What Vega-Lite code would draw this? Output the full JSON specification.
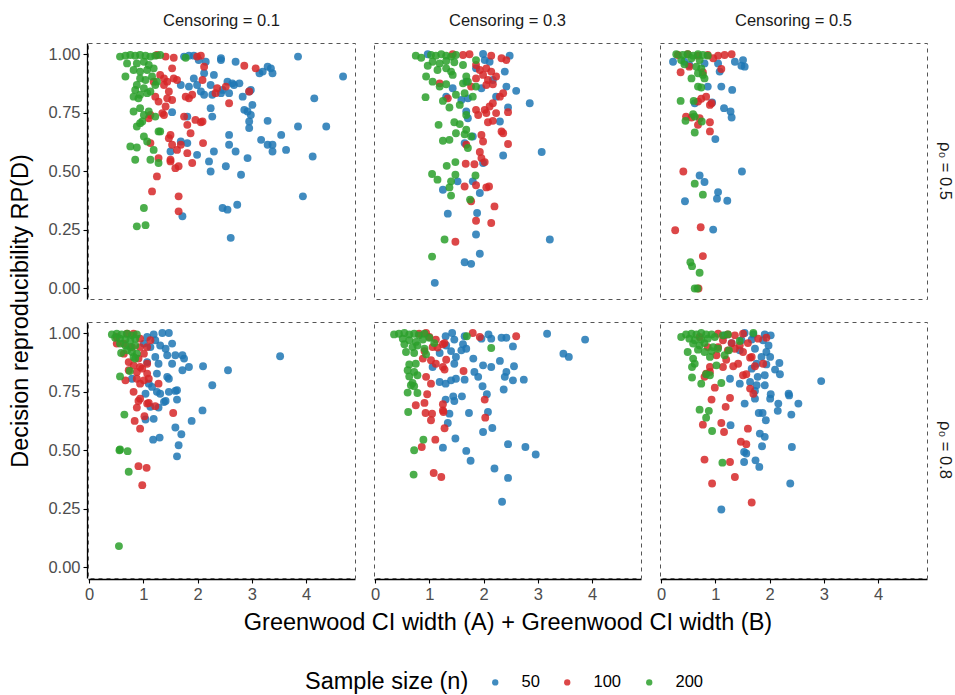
{
  "$schema": "https://vega.github.io/schema/vega-lite/v6.json",
  "background": "white",
  "padding": {"left": 8, "top": 12, "right": 4, "bottom": 4},
  "data": {
    "values": [
      {"cens":0.1,"p0":0.5,"n":50,"width":1.75,"rp":0.989},{"cens":0.1,"p0":0.5,"n":50,"width":1.84,"rp":0.993},{"cens":0.1,"p0":0.5,"n":50,"width":1.93,"rp":0.993},{"cens":0.1,"p0":0.5,"n":50,"width":2.02,"rp":0.974},{"cens":0.1,"p0":0.5,"n":50,"width":2.15,"rp":0.967},{"cens":0.1,"p0":0.5,"n":50,"width":2.43,"rp":0.982},{"cens":0.1,"p0":0.5,"n":50,"width":2.43,"rp":0.974},{"cens":0.1,"p0":0.5,"n":50,"width":2.70,"rp":0.967},{"cens":0.1,"p0":0.5,"n":50,"width":3.85,"rp":0.989},{"cens":0.1,"p0":0.5,"n":50,"width":4.68,"rp":0.904},
      {"cens":0.1,"p0":0.5,"n":50,"width":3.29,"rp":0.946},{"cens":0.1,"p0":0.5,"n":50,"width":3.35,"rp":0.939},{"cens":0.1,"p0":0.5,"n":50,"width":3.14,"rp":0.918},{"cens":0.1,"p0":0.5,"n":50,"width":3.20,"rp":0.925},{"cens":0.1,"p0":0.5,"n":50,"width":3.38,"rp":0.918},{"cens":0.1,"p0":0.5,"n":50,"width":1.69,"rp":0.868},{"cens":0.1,"p0":0.5,"n":50,"width":1.84,"rp":0.861},{"cens":0.1,"p0":0.5,"n":50,"width":1.99,"rp":0.868},{"cens":0.1,"p0":0.5,"n":50,"width":2.12,"rp":0.826},{"cens":0.1,"p0":0.5,"n":50,"width":2.30,"rp":0.911},
      {"cens":0.1,"p0":0.5,"n":50,"width":2.24,"rp":0.868},{"cens":0.1,"p0":0.5,"n":50,"width":2.27,"rp":0.826},{"cens":0.1,"p0":0.5,"n":50,"width":2.43,"rp":0.833},{"cens":0.1,"p0":0.5,"n":50,"width":2.46,"rp":0.847},{"cens":0.1,"p0":0.5,"n":50,"width":2.55,"rp":0.882},{"cens":0.1,"p0":0.5,"n":50,"width":2.58,"rp":0.833},{"cens":0.1,"p0":0.5,"n":50,"width":2.64,"rp":0.875},{"cens":0.1,"p0":0.5,"n":50,"width":2.67,"rp":0.868},{"cens":0.1,"p0":0.5,"n":50,"width":2.77,"rp":0.875},{"cens":0.1,"p0":0.5,"n":50,"width":2.83,"rp":0.818},
      {"cens":0.1,"p0":0.5,"n":50,"width":2.98,"rp":0.847},{"cens":0.1,"p0":0.5,"n":50,"width":2.95,"rp":0.840},{"cens":0.1,"p0":0.5,"n":50,"width":3.01,"rp":0.783},{"cens":0.1,"p0":0.5,"n":50,"width":2.86,"rp":0.762},{"cens":0.1,"p0":0.5,"n":50,"width":2.92,"rp":0.755},{"cens":0.1,"p0":0.5,"n":50,"width":2.98,"rp":0.740},{"cens":0.1,"p0":0.5,"n":50,"width":2.95,"rp":0.712},{"cens":0.1,"p0":0.5,"n":50,"width":2.95,"rp":0.684},{"cens":0.1,"p0":0.5,"n":50,"width":3.29,"rp":0.715},{"cens":0.1,"p0":0.5,"n":50,"width":3.54,"rp":0.655},
      {"cens":0.1,"p0":0.5,"n":50,"width":3.85,"rp":0.691},{"cens":0.1,"p0":0.5,"n":50,"width":4.15,"rp":0.811},{"cens":0.1,"p0":0.5,"n":50,"width":4.37,"rp":0.691},{"cens":0.1,"p0":0.5,"n":50,"width":3.17,"rp":0.634},{"cens":0.1,"p0":0.5,"n":50,"width":3.29,"rp":0.613},{"cens":0.1,"p0":0.5,"n":50,"width":3.38,"rp":0.613},{"cens":0.1,"p0":0.5,"n":50,"width":3.38,"rp":0.584},{"cens":0.1,"p0":0.5,"n":50,"width":3.63,"rp":0.591},{"cens":0.1,"p0":0.5,"n":50,"width":4.12,"rp":0.563},{"cens":0.1,"p0":0.5,"n":50,"width":3.94,"rp":0.393},
      {"cens":0.1,"p0":0.5,"n":50,"width":2.24,"rp":0.769},{"cens":0.1,"p0":0.5,"n":50,"width":2.27,"rp":0.733},{"cens":0.1,"p0":0.5,"n":50,"width":1.81,"rp":0.733},{"cens":0.1,"p0":0.5,"n":50,"width":1.53,"rp":0.752},{"cens":0.1,"p0":0.5,"n":50,"width":2.58,"rp":0.655},{"cens":0.1,"p0":0.5,"n":50,"width":2.58,"rp":0.613},{"cens":0.1,"p0":0.5,"n":50,"width":2.70,"rp":0.584},{"cens":0.1,"p0":0.5,"n":50,"width":2.92,"rp":0.556},{"cens":0.1,"p0":0.5,"n":50,"width":2.30,"rp":0.584},{"cens":0.1,"p0":0.5,"n":50,"width":1.99,"rp":0.570},
      {"cens":0.1,"p0":0.5,"n":50,"width":2.21,"rp":0.542},{"cens":0.1,"p0":0.5,"n":50,"width":2.24,"rp":0.499},{"cens":0.1,"p0":0.5,"n":50,"width":2.52,"rp":0.521},{"cens":0.1,"p0":0.5,"n":50,"width":2.80,"rp":0.485},{"cens":0.1,"p0":0.5,"n":50,"width":1.69,"rp":0.627},{"cens":0.1,"p0":0.5,"n":50,"width":1.81,"rp":0.620},{"cens":0.1,"p0":0.5,"n":50,"width":1.50,"rp":0.584},{"cens":0.1,"p0":0.5,"n":50,"width":1.72,"rp":0.308},{"cens":0.1,"p0":0.5,"n":50,"width":2.46,"rp":0.343},{"cens":0.1,"p0":0.5,"n":50,"width":2.55,"rp":0.336},
      {"cens":0.1,"p0":0.5,"n":50,"width":2.73,"rp":0.357},{"cens":0.1,"p0":0.5,"n":50,"width":2.61,"rp":0.216},{"cens":0.1,"p0":0.5,"n":50,"width":2.06,"rp":0.840},{"cens":0.1,"p0":0.5,"n":50,"width":2.12,"rp":0.918},{"cens":0.1,"p0":0.5,"n":50,"width":1.93,"rp":0.896},

      {"cens":0.3,"p0":0.5,"n":50,"width":0.97,"rp":0.999},{"cens":0.3,"p0":0.5,"n":50,"width":1.99,"rp":1.0},{"cens":0.3,"p0":0.5,"n":50,"width":2.02,"rp":0.974},{"cens":0.3,"p0":0.5,"n":50,"width":2.48,"rp":0.993},{"cens":0.3,"p0":0.5,"n":50,"width":2.39,"rp":0.925},{"cens":0.3,"p0":0.5,"n":50,"width":2.60,"rp":0.843},{"cens":0.3,"p0":0.5,"n":50,"width":2.85,"rp":0.790},{"cens":0.3,"p0":0.5,"n":50,"width":2.42,"rp":0.861},{"cens":0.3,"p0":0.5,"n":50,"width":2.45,"rp":0.772},{"cens":0.3,"p0":0.5,"n":50,"width":2.17,"rp":0.889},
      {"cens":0.3,"p0":0.5,"n":50,"width":1.96,"rp":0.854},{"cens":0.3,"p0":0.5,"n":50,"width":2.23,"rp":0.818},{"cens":0.3,"p0":0.5,"n":50,"width":2.30,"rp":0.712},{"cens":0.3,"p0":0.5,"n":50,"width":3.07,"rp":0.582},{"cens":0.3,"p0":0.5,"n":50,"width":2.36,"rp":0.567},{"cens":0.3,"p0":0.5,"n":50,"width":3.22,"rp":0.209},{"cens":0.3,"p0":0.5,"n":50,"width":1.31,"rp":0.818},{"cens":0.3,"p0":0.5,"n":50,"width":1.43,"rp":0.854},{"cens":0.3,"p0":0.5,"n":50,"width":1.68,"rp":0.755},{"cens":0.3,"p0":0.5,"n":50,"width":1.71,"rp":0.726},
      {"cens":0.3,"p0":0.5,"n":50,"width":1.80,"rp":0.648},{"cens":0.3,"p0":0.5,"n":50,"width":1.65,"rp":0.620},{"cens":0.3,"p0":0.5,"n":50,"width":1.99,"rp":0.535},{"cens":0.3,"p0":0.5,"n":50,"width":1.52,"rp":0.457},{"cens":0.3,"p0":0.5,"n":50,"width":1.80,"rp":0.457},{"cens":0.3,"p0":0.5,"n":50,"width":1.93,"rp":0.407},{"cens":0.3,"p0":0.5,"n":50,"width":1.25,"rp":0.421},{"cens":0.3,"p0":0.5,"n":50,"width":1.34,"rp":0.319},{"cens":0.3,"p0":0.5,"n":50,"width":1.88,"rp":0.322},{"cens":0.3,"p0":0.5,"n":50,"width":1.86,"rp":0.230},
      {"cens":0.3,"p0":0.5,"n":50,"width":1.93,"rp":0.148},{"cens":0.3,"p0":0.5,"n":50,"width":1.65,"rp":0.112},{"cens":0.3,"p0":0.5,"n":50,"width":1.77,"rp":0.105},{"cens":0.3,"p0":0.5,"n":50,"width":1.10,"rp":0.024},{"cens":0.3,"p0":0.5,"n":50,"width":2.11,"rp":0.967},{"cens":0.3,"p0":0.5,"n":50,"width":1.86,"rp":0.939},{"cens":0.3,"p0":0.5,"n":50,"width":1.68,"rp":0.882},{"cens":0.3,"p0":0.5,"n":50,"width":1.59,"rp":0.804},{"cens":0.3,"p0":0.5,"n":50,"width":1.71,"rp":0.811},

      {"cens":0.5,"p0":0.5,"n":50,"width":0.22,"rp":0.967},{"cens":0.5,"p0":0.5,"n":50,"width":0.43,"rp":0.967},{"cens":0.5,"p0":0.5,"n":50,"width":0.80,"rp":0.960},{"cens":0.5,"p0":0.5,"n":50,"width":1.05,"rp":0.960},{"cens":0.5,"p0":0.5,"n":50,"width":1.08,"rp":0.925},{"cens":0.5,"p0":0.5,"n":50,"width":1.36,"rp":0.967},{"cens":0.5,"p0":0.5,"n":50,"width":1.51,"rp":0.974},{"cens":0.5,"p0":0.5,"n":50,"width":1.54,"rp":0.946},{"cens":0.5,"p0":0.5,"n":50,"width":1.48,"rp":0.950},{"cens":0.5,"p0":0.5,"n":50,"width":0.86,"rp":0.861},
      {"cens":0.5,"p0":0.5,"n":50,"width":1.11,"rp":0.861},{"cens":0.5,"p0":0.5,"n":50,"width":1.31,"rp":0.847},{"cens":0.5,"p0":0.5,"n":50,"width":0.62,"rp":0.790},{"cens":0.5,"p0":0.5,"n":50,"width":0.94,"rp":0.793},{"cens":0.5,"p0":0.5,"n":50,"width":1.16,"rp":0.769},{"cens":0.5,"p0":0.5,"n":50,"width":1.28,"rp":0.755},{"cens":0.5,"p0":0.5,"n":50,"width":1.30,"rp":0.729},{"cens":0.5,"p0":0.5,"n":50,"width":1.00,"rp":0.637},{"cens":0.5,"p0":0.5,"n":50,"width":1.49,"rp":0.499},{"cens":0.5,"p0":0.5,"n":50,"width":0.71,"rp":0.482},
      {"cens":0.5,"p0":0.5,"n":50,"width":0.80,"rp":0.454},{"cens":0.5,"p0":0.5,"n":50,"width":0.44,"rp":0.372},{"cens":0.5,"p0":0.5,"n":50,"width":1.03,"rp":0.383},{"cens":0.5,"p0":0.5,"n":50,"width":1.05,"rp":0.411},{"cens":0.5,"p0":0.5,"n":50,"width":1.22,"rp":0.374},{"cens":0.5,"p0":0.5,"n":50,"width":0.96,"rp":0.251},{"cens":0.5,"p0":0.5,"n":50,"width":0.52,"rp":0.953},

      {"cens":0.1,"p0":0.8,"n":50,"width":1.19,"rp":0.994},{"cens":0.1,"p0":0.8,"n":50,"width":1.35,"rp":1.0},{"cens":0.1,"p0":0.8,"n":50,"width":1.47,"rp":1.0},{"cens":0.1,"p0":0.8,"n":50,"width":1.07,"rp":0.983},{"cens":0.1,"p0":0.8,"n":50,"width":1.22,"rp":0.969},{"cens":0.1,"p0":0.8,"n":50,"width":1.01,"rp":0.955},{"cens":0.1,"p0":0.8,"n":50,"width":1.31,"rp":0.947},{"cens":0.1,"p0":0.8,"n":50,"width":1.53,"rp":0.955},{"cens":0.1,"p0":0.8,"n":50,"width":1.41,"rp":0.933},{"cens":0.1,"p0":0.8,"n":50,"width":1.13,"rp":0.940},
      {"cens":0.1,"p0":0.8,"n":50,"width":1.22,"rp":0.898},{"cens":0.1,"p0":0.8,"n":50,"width":1.44,"rp":0.905},{"cens":0.1,"p0":0.8,"n":50,"width":1.59,"rp":0.905},{"cens":0.1,"p0":0.8,"n":50,"width":1.53,"rp":0.869},{"cens":0.1,"p0":0.8,"n":50,"width":1.72,"rp":0.905},{"cens":0.1,"p0":0.8,"n":50,"width":1.75,"rp":0.891},{"cens":0.1,"p0":0.8,"n":50,"width":1.84,"rp":0.855},{"cens":0.1,"p0":0.8,"n":50,"width":1.72,"rp":0.841},{"cens":0.1,"p0":0.8,"n":50,"width":2.10,"rp":0.858},{"cens":0.1,"p0":0.8,"n":50,"width":2.56,"rp":0.841},
      {"cens":0.1,"p0":0.8,"n":50,"width":3.52,"rp":0.901},{"cens":0.1,"p0":0.8,"n":50,"width":1.28,"rp":0.869},{"cens":0.1,"p0":0.8,"n":50,"width":1.07,"rp":0.876},{"cens":0.1,"p0":0.8,"n":50,"width":1.25,"rp":0.827},{"cens":0.1,"p0":0.8,"n":50,"width":1.44,"rp":0.813},{"cens":0.1,"p0":0.8,"n":50,"width":1.47,"rp":0.805},{"cens":0.1,"p0":0.8,"n":50,"width":1.10,"rp":0.784},{"cens":0.1,"p0":0.8,"n":50,"width":1.16,"rp":0.770},{"cens":0.1,"p0":0.8,"n":50,"width":1.04,"rp":0.741},{"cens":0.1,"p0":0.8,"n":50,"width":1.25,"rp":0.749},
      {"cens":0.1,"p0":0.8,"n":50,"width":1.31,"rp":0.741},{"cens":0.1,"p0":0.8,"n":50,"width":1.47,"rp":0.749},{"cens":0.1,"p0":0.8,"n":50,"width":1.38,"rp":0.706},{"cens":0.1,"p0":0.8,"n":50,"width":1.62,"rp":0.756},{"cens":0.1,"p0":0.8,"n":50,"width":1.59,"rp":0.753},{"cens":0.1,"p0":0.8,"n":50,"width":1.41,"rp":0.710},{"cens":0.1,"p0":0.8,"n":50,"width":1.28,"rp":0.682},{"cens":0.1,"p0":0.8,"n":50,"width":1.13,"rp":0.685},{"cens":0.1,"p0":0.8,"n":50,"width":1.04,"rp":0.631},{"cens":0.1,"p0":0.8,"n":50,"width":1.19,"rp":0.634},
      {"cens":0.1,"p0":0.8,"n":50,"width":2.27,"rp":0.777},{"cens":0.1,"p0":0.8,"n":50,"width":2.09,"rp":0.670},{"cens":0.1,"p0":0.8,"n":50,"width":1.89,"rp":0.625},{"cens":0.1,"p0":0.8,"n":50,"width":1.62,"rp":0.716},{"cens":0.1,"p0":0.8,"n":50,"width":1.18,"rp":0.545},{"cens":0.1,"p0":0.8,"n":50,"width":1.30,"rp":0.554},{"cens":0.1,"p0":0.8,"n":50,"width":1.59,"rp":0.597},{"cens":0.1,"p0":0.8,"n":50,"width":1.70,"rp":0.568},{"cens":0.1,"p0":0.8,"n":50,"width":1.65,"rp":0.521},{"cens":0.1,"p0":0.8,"n":50,"width":1.62,"rp":0.474},
      {"cens":0.1,"p0":0.8,"n":50,"width":0.79,"rp":0.805},

      {"cens":0.3,"p0":0.8,"n":50,"width":1.30,"rp":0.986},{"cens":0.3,"p0":0.8,"n":50,"width":1.42,"rp":1.0},{"cens":0.3,"p0":0.8,"n":50,"width":1.65,"rp":0.986},{"cens":0.3,"p0":0.8,"n":50,"width":1.46,"rp":0.972},{"cens":0.3,"p0":0.8,"n":50,"width":1.62,"rp":0.952},{"cens":0.3,"p0":0.8,"n":50,"width":1.31,"rp":0.947},{"cens":0.3,"p0":0.8,"n":50,"width":1.40,"rp":0.923},{"cens":0.3,"p0":0.8,"n":50,"width":1.49,"rp":0.898},{"cens":0.3,"p0":0.8,"n":50,"width":1.68,"rp":0.933},{"cens":0.3,"p0":0.8,"n":50,"width":1.59,"rp":0.926},
      {"cens":0.3,"p0":0.8,"n":50,"width":1.19,"rp":0.915},{"cens":0.3,"p0":0.8,"n":50,"width":1.46,"rp":0.869},{"cens":0.3,"p0":0.8,"n":50,"width":1.06,"rp":0.855},{"cens":0.3,"p0":0.8,"n":50,"width":1.81,"rp":0.891},{"cens":0.3,"p0":0.8,"n":50,"width":1.99,"rp":0.862},{"cens":0.3,"p0":0.8,"n":50,"width":2.14,"rp":0.855},{"cens":0.3,"p0":0.8,"n":50,"width":1.83,"rp":0.834},{"cens":0.3,"p0":0.8,"n":50,"width":1.90,"rp":0.813},{"cens":0.3,"p0":0.8,"n":50,"width":1.65,"rp":0.801},{"cens":0.3,"p0":0.8,"n":50,"width":1.49,"rp":0.805},
      {"cens":0.3,"p0":0.8,"n":50,"width":1.40,"rp":0.798},{"cens":0.3,"p0":0.8,"n":50,"width":1.19,"rp":0.791},{"cens":0.3,"p0":0.8,"n":50,"width":1.30,"rp":0.784},{"cens":0.3,"p0":0.8,"n":50,"width":2.14,"rp":0.976},{"cens":0.3,"p0":0.8,"n":50,"width":1.96,"rp":0.976},{"cens":0.3,"p0":0.8,"n":50,"width":2.33,"rp":0.980},{"cens":0.3,"p0":0.8,"n":50,"width":2.42,"rp":0.980},{"cens":0.3,"p0":0.8,"n":50,"width":2.54,"rp":0.943},{"cens":0.3,"p0":0.8,"n":50,"width":2.09,"rp":0.994},{"cens":0.3,"p0":0.8,"n":50,"width":3.17,"rp":0.997},
      {"cens":0.3,"p0":0.8,"n":50,"width":3.87,"rp":0.972},{"cens":0.3,"p0":0.8,"n":50,"width":3.47,"rp":0.912},{"cens":0.3,"p0":0.8,"n":50,"width":3.57,"rp":0.898},{"cens":0.3,"p0":0.8,"n":50,"width":2.30,"rp":0.881},{"cens":0.3,"p0":0.8,"n":50,"width":2.56,"rp":0.858},{"cens":0.3,"p0":0.8,"n":50,"width":2.42,"rp":0.834},{"cens":0.3,"p0":0.8,"n":50,"width":2.39,"rp":0.813},{"cens":0.3,"p0":0.8,"n":50,"width":2.54,"rp":0.798},{"cens":0.3,"p0":0.8,"n":50,"width":2.74,"rp":0.801},{"cens":0.3,"p0":0.8,"n":50,"width":2.37,"rp":0.759},
      {"cens":0.3,"p0":0.8,"n":50,"width":1.98,"rp":0.773},{"cens":0.3,"p0":0.8,"n":50,"width":2.06,"rp":0.739},{"cens":0.3,"p0":0.8,"n":50,"width":1.73,"rp":0.659},{"cens":0.3,"p0":0.8,"n":50,"width":1.46,"rp":0.710},{"cens":0.3,"p0":0.8,"n":50,"width":1.44,"rp":0.730},{"cens":0.3,"p0":0.8,"n":50,"width":1.60,"rp":0.730},{"cens":0.3,"p0":0.8,"n":50,"width":1.30,"rp":0.716},{"cens":0.3,"p0":0.8,"n":50,"width":1.37,"rp":0.656},{"cens":0.3,"p0":0.8,"n":50,"width":1.34,"rp":0.616},{"cens":0.3,"p0":0.8,"n":50,"width":2.08,"rp":0.663},
      {"cens":0.3,"p0":0.8,"n":50,"width":2.16,"rp":0.595},{"cens":0.3,"p0":0.8,"n":50,"width":1.99,"rp":0.578},{"cens":0.3,"p0":0.8,"n":50,"width":1.48,"rp":0.550},{"cens":0.3,"p0":0.8,"n":50,"width":1.25,"rp":0.511},{"cens":0.3,"p0":0.8,"n":50,"width":1.68,"rp":0.497},{"cens":0.3,"p0":0.8,"n":50,"width":1.76,"rp":0.455},{"cens":0.3,"p0":0.8,"n":50,"width":2.45,"rp":0.526},{"cens":0.3,"p0":0.8,"n":50,"width":2.77,"rp":0.514},{"cens":0.3,"p0":0.8,"n":50,"width":2.96,"rp":0.482},{"cens":0.3,"p0":0.8,"n":50,"width":2.20,"rp":0.422},
      {"cens":0.3,"p0":0.8,"n":50,"width":2.45,"rp":0.382},{"cens":0.3,"p0":0.8,"n":50,"width":2.34,"rp":0.280},

      {"cens":0.5,"p0":0.8,"n":50,"width":1.17,"rp":0.990},{"cens":0.5,"p0":0.8,"n":50,"width":1.54,"rp":1.0},{"cens":0.5,"p0":0.8,"n":50,"width":1.70,"rp":0.994},{"cens":0.5,"p0":0.8,"n":50,"width":1.91,"rp":0.994},{"cens":0.5,"p0":0.8,"n":50,"width":2.02,"rp":0.990},{"cens":0.5,"p0":0.8,"n":50,"width":1.48,"rp":0.969},{"cens":0.5,"p0":0.8,"n":50,"width":1.67,"rp":0.972},{"cens":0.5,"p0":0.8,"n":50,"width":1.88,"rp":0.969},{"cens":0.5,"p0":0.8,"n":50,"width":1.98,"rp":0.947},{"cens":0.5,"p0":0.8,"n":50,"width":1.73,"rp":0.933},
      {"cens":0.5,"p0":0.8,"n":50,"width":1.94,"rp":0.919},{"cens":0.5,"p0":0.8,"n":50,"width":2.01,"rp":0.898},{"cens":0.5,"p0":0.8,"n":50,"width":1.85,"rp":0.898},{"cens":0.5,"p0":0.8,"n":50,"width":1.76,"rp":0.869},{"cens":0.5,"p0":0.8,"n":50,"width":1.67,"rp":0.848},{"cens":0.5,"p0":0.8,"n":50,"width":1.94,"rp":0.866},{"cens":0.5,"p0":0.8,"n":50,"width":2.10,"rp":0.844},{"cens":0.5,"p0":0.8,"n":50,"width":2.19,"rp":0.824},{"cens":0.5,"p0":0.8,"n":50,"width":2.18,"rp":0.872},{"cens":0.5,"p0":0.8,"n":50,"width":1.91,"rp":0.820},
      {"cens":0.5,"p0":0.8,"n":50,"width":1.78,"rp":0.813},{"cens":0.5,"p0":0.8,"n":50,"width":1.91,"rp":0.777},{"cens":0.5,"p0":0.8,"n":50,"width":1.76,"rp":0.777},{"cens":0.5,"p0":0.8,"n":50,"width":1.64,"rp":0.791},{"cens":0.5,"p0":0.8,"n":50,"width":1.45,"rp":0.784},{"cens":0.5,"p0":0.8,"n":50,"width":1.27,"rp":0.805},{"cens":0.5,"p0":0.8,"n":50,"width":1.73,"rp":0.753},{"cens":0.5,"p0":0.8,"n":50,"width":1.73,"rp":0.720},{"cens":0.5,"p0":0.8,"n":50,"width":1.54,"rp":0.699},{"cens":0.5,"p0":0.8,"n":50,"width":2.02,"rp":0.739},
      {"cens":0.5,"p0":0.8,"n":50,"width":2.01,"rp":0.720},{"cens":0.5,"p0":0.8,"n":50,"width":2.16,"rp":0.699},{"cens":0.5,"p0":0.8,"n":50,"width":2.15,"rp":0.668},{"cens":0.5,"p0":0.8,"n":50,"width":2.35,"rp":0.741},{"cens":0.5,"p0":0.8,"n":50,"width":2.36,"rp":0.734},{"cens":0.5,"p0":0.8,"n":50,"width":2.53,"rp":0.699},{"cens":0.5,"p0":0.8,"n":50,"width":2.40,"rp":0.652},{"cens":0.5,"p0":0.8,"n":50,"width":1.80,"rp":0.659},{"cens":0.5,"p0":0.8,"n":50,"width":1.87,"rp":0.659},{"cens":0.5,"p0":0.8,"n":50,"width":1.93,"rp":0.628},
      {"cens":0.5,"p0":0.8,"n":50,"width":2.95,"rp":0.795},{"cens":0.5,"p0":0.8,"n":50,"width":1.82,"rp":0.571},{"cens":0.5,"p0":0.8,"n":50,"width":1.91,"rp":0.557},{"cens":0.5,"p0":0.8,"n":50,"width":1.86,"rp":0.517},{"cens":0.5,"p0":0.8,"n":50,"width":2.41,"rp":0.514},{"cens":0.5,"p0":0.8,"n":50,"width":1.53,"rp":0.493},{"cens":0.5,"p0":0.8,"n":50,"width":1.57,"rp":0.486},{"cens":0.5,"p0":0.8,"n":50,"width":1.53,"rp":0.450},{"cens":0.5,"p0":0.8,"n":50,"width":1.74,"rp":0.457},{"cens":0.5,"p0":0.8,"n":50,"width":1.81,"rp":0.429},
      {"cens":0.5,"p0":0.8,"n":50,"width":2.38,"rp":0.358},{"cens":0.5,"p0":0.8,"n":50,"width":1.28,"rp":0.607},{"cens":0.5,"p0":0.8,"n":50,"width":1.11,"rp":0.247},{"cens":0.5,"p0":0.8,"n":50,"width":1.30,"rp":0.957},{"cens":0.5,"p0":0.8,"n":50,"width":1.45,"rp":0.926},

      {"cens":0.1,"p0":0.5,"n":100,"width":1.25,"rp":0.996},{"cens":0.1,"p0":0.5,"n":100,"width":1.41,"rp":0.989},{"cens":0.1,"p0":0.5,"n":100,"width":1.56,"rp":0.984},{"cens":0.1,"p0":0.5,"n":100,"width":1.99,"rp":0.989},{"cens":0.1,"p0":0.5,"n":100,"width":2.06,"rp":0.993},{"cens":0.1,"p0":0.5,"n":100,"width":2.12,"rp":0.946},{"cens":0.1,"p0":0.5,"n":100,"width":2.86,"rp":0.950},{"cens":0.1,"p0":0.5,"n":100,"width":3.07,"rp":0.939},{"cens":0.1,"p0":0.5,"n":100,"width":2.95,"rp":0.840},{"cens":0.1,"p0":0.5,"n":100,"width":2.58,"rp":0.790},
      {"cens":0.1,"p0":0.5,"n":100,"width":2.52,"rp":0.861},{"cens":0.1,"p0":0.5,"n":100,"width":2.36,"rp":0.854},{"cens":0.1,"p0":0.5,"n":100,"width":2.33,"rp":0.833},{"cens":0.1,"p0":0.5,"n":100,"width":2.09,"rp":0.889},{"cens":0.1,"p0":0.5,"n":100,"width":1.90,"rp":0.826},{"cens":0.1,"p0":0.5,"n":100,"width":1.84,"rp":0.811},{"cens":0.1,"p0":0.5,"n":100,"width":1.78,"rp":0.818},{"cens":0.1,"p0":0.5,"n":100,"width":1.53,"rp":0.939},{"cens":0.1,"p0":0.5,"n":100,"width":1.56,"rp":0.896},{"cens":0.1,"p0":0.5,"n":100,"width":1.62,"rp":0.889},
      {"cens":0.1,"p0":0.5,"n":100,"width":1.44,"rp":0.882},{"cens":0.1,"p0":0.5,"n":100,"width":1.38,"rp":0.896},{"cens":0.1,"p0":0.5,"n":100,"width":1.31,"rp":0.911},{"cens":0.1,"p0":0.5,"n":100,"width":1.38,"rp":0.868},{"cens":0.1,"p0":0.5,"n":100,"width":1.47,"rp":0.840},{"cens":0.1,"p0":0.5,"n":100,"width":1.44,"rp":0.811},{"cens":0.1,"p0":0.5,"n":100,"width":1.28,"rp":0.797},{"cens":0.1,"p0":0.5,"n":100,"width":1.41,"rp":0.776},{"cens":0.1,"p0":0.5,"n":100,"width":1.53,"rp":0.804},{"cens":0.1,"p0":0.5,"n":100,"width":1.35,"rp":0.748},
      {"cens":0.1,"p0":0.5,"n":100,"width":1.38,"rp":0.740},{"cens":0.1,"p0":0.5,"n":100,"width":1.13,"rp":0.740},{"cens":0.1,"p0":0.5,"n":100,"width":1.10,"rp":0.726},{"cens":0.1,"p0":0.5,"n":100,"width":1.75,"rp":0.733},{"cens":0.1,"p0":0.5,"n":100,"width":1.96,"rp":0.719},{"cens":0.1,"p0":0.5,"n":100,"width":2.06,"rp":0.709},{"cens":0.1,"p0":0.5,"n":100,"width":2.09,"rp":0.712},{"cens":0.1,"p0":0.5,"n":100,"width":1.81,"rp":0.698},{"cens":0.1,"p0":0.5,"n":100,"width":1.87,"rp":0.662},{"cens":0.1,"p0":0.5,"n":100,"width":1.50,"rp":0.655},
      {"cens":0.1,"p0":0.5,"n":100,"width":1.47,"rp":0.641},{"cens":0.1,"p0":0.5,"n":100,"width":1.53,"rp":0.613},{"cens":0.1,"p0":0.5,"n":100,"width":1.69,"rp":0.613},{"cens":0.1,"p0":0.5,"n":100,"width":1.62,"rp":0.591},{"cens":0.1,"p0":0.5,"n":100,"width":1.81,"rp":0.577},{"cens":0.1,"p0":0.5,"n":100,"width":1.90,"rp":0.535},{"cens":0.1,"p0":0.5,"n":100,"width":2.10,"rp":0.620},{"cens":0.1,"p0":0.5,"n":100,"width":1.13,"rp":0.620},{"cens":0.1,"p0":0.5,"n":100,"width":1.28,"rp":0.556},{"cens":0.1,"p0":0.5,"n":100,"width":1.50,"rp":0.549},
      {"cens":0.1,"p0":0.5,"n":100,"width":1.50,"rp":0.542},{"cens":0.1,"p0":0.5,"n":100,"width":1.59,"rp":0.513},{"cens":0.1,"p0":0.5,"n":100,"width":1.65,"rp":0.521},{"cens":0.1,"p0":0.5,"n":100,"width":1.25,"rp":0.478},{"cens":0.1,"p0":0.5,"n":100,"width":1.16,"rp":0.414},{"cens":0.1,"p0":0.5,"n":100,"width":1.65,"rp":0.393},{"cens":0.1,"p0":0.5,"n":100,"width":1.65,"rp":0.329},{"cens":0.1,"p0":0.5,"n":100,"width":1.19,"rp":0.882},{"cens":0.1,"p0":0.5,"n":100,"width":1.22,"rp":0.818},

      {"cens":0.3,"p0":0.5,"n":100,"width":1.43,"rp":0.999},{"cens":0.3,"p0":0.5,"n":100,"width":1.62,"rp":0.996},{"cens":0.3,"p0":0.5,"n":100,"width":1.74,"rp":0.999},{"cens":0.3,"p0":0.5,"n":100,"width":2.14,"rp":0.993},{"cens":0.3,"p0":0.5,"n":100,"width":2.33,"rp":0.982},{"cens":0.3,"p0":0.5,"n":100,"width":2.42,"rp":0.974},{"cens":0.3,"p0":0.5,"n":100,"width":1.86,"rp":0.953},{"cens":0.3,"p0":0.5,"n":100,"width":1.93,"rp":0.932},{"cens":0.3,"p0":0.5,"n":100,"width":2.05,"rp":0.939},{"cens":0.3,"p0":0.5,"n":100,"width":2.14,"rp":0.925},
      {"cens":0.3,"p0":0.5,"n":100,"width":1.99,"rp":0.911},{"cens":0.3,"p0":0.5,"n":100,"width":1.86,"rp":0.896},{"cens":0.3,"p0":0.5,"n":100,"width":2.08,"rp":0.889},{"cens":0.3,"p0":0.5,"n":100,"width":2.23,"rp":0.904},{"cens":0.3,"p0":0.5,"n":100,"width":2.17,"rp":0.871},{"cens":0.3,"p0":0.5,"n":100,"width":1.77,"rp":0.861},{"cens":0.3,"p0":0.5,"n":100,"width":2.05,"rp":0.868},{"cens":0.3,"p0":0.5,"n":100,"width":2.36,"rp":0.833},{"cens":0.3,"p0":0.5,"n":100,"width":2.30,"rp":0.818},{"cens":0.3,"p0":0.5,"n":100,"width":2.17,"rp":0.790},
      {"cens":0.3,"p0":0.5,"n":100,"width":2.11,"rp":0.776},{"cens":0.3,"p0":0.5,"n":100,"width":2.02,"rp":0.762},{"cens":0.3,"p0":0.5,"n":100,"width":1.86,"rp":0.762},{"cens":0.3,"p0":0.5,"n":100,"width":1.90,"rp":0.740},{"cens":0.3,"p0":0.5,"n":100,"width":2.05,"rp":0.748},{"cens":0.3,"p0":0.5,"n":100,"width":2.23,"rp":0.748},{"cens":0.3,"p0":0.5,"n":100,"width":2.45,"rp":0.752},{"cens":0.3,"p0":0.5,"n":100,"width":2.08,"rp":0.709},{"cens":0.3,"p0":0.5,"n":100,"width":2.17,"rp":0.715},{"cens":0.3,"p0":0.5,"n":100,"width":2.33,"rp":0.670},
      {"cens":0.3,"p0":0.5,"n":100,"width":2.36,"rp":0.662},{"cens":0.3,"p0":0.5,"n":100,"width":1.96,"rp":0.655},{"cens":0.3,"p0":0.5,"n":100,"width":1.99,"rp":0.627},{"cens":0.3,"p0":0.5,"n":100,"width":2.45,"rp":0.616},{"cens":0.3,"p0":0.5,"n":100,"width":1.68,"rp":0.613},{"cens":0.3,"p0":0.5,"n":100,"width":1.93,"rp":0.582},{"cens":0.3,"p0":0.5,"n":100,"width":1.96,"rp":0.556},{"cens":0.3,"p0":0.5,"n":100,"width":2.02,"rp":0.539},{"cens":0.3,"p0":0.5,"n":100,"width":1.83,"rp":0.530},{"cens":0.3,"p0":0.5,"n":100,"width":1.67,"rp":0.532},
      {"cens":0.3,"p0":0.5,"n":100,"width":1.86,"rp":0.440},{"cens":0.3,"p0":0.5,"n":100,"width":2.05,"rp":0.431},{"cens":0.3,"p0":0.5,"n":100,"width":2.10,"rp":0.435},{"cens":0.3,"p0":0.5,"n":100,"width":1.65,"rp":0.435},{"cens":0.3,"p0":0.5,"n":100,"width":1.77,"rp":0.372},{"cens":0.3,"p0":0.5,"n":100,"width":2.20,"rp":0.350},{"cens":0.3,"p0":0.5,"n":100,"width":1.86,"rp":0.289},{"cens":0.3,"p0":0.5,"n":100,"width":2.14,"rp":0.279},{"cens":0.3,"p0":0.5,"n":100,"width":1.48,"rp":0.199},{"cens":0.3,"p0":0.5,"n":100,"width":1.19,"rp":0.875},
      {"cens":0.3,"p0":0.5,"n":100,"width":1.34,"rp":0.811},

      {"cens":0.5,"p0":0.5,"n":100,"width":0.31,"rp":0.996},{"cens":0.5,"p0":0.5,"n":100,"width":0.49,"rp":0.999},{"cens":0.5,"p0":0.5,"n":100,"width":0.68,"rp":0.993},{"cens":0.5,"p0":0.5,"n":100,"width":0.86,"rp":0.996},{"cens":0.5,"p0":0.5,"n":100,"width":1.05,"rp":0.993},{"cens":0.5,"p0":0.5,"n":100,"width":1.17,"rp":0.996},{"cens":0.5,"p0":0.5,"n":100,"width":1.30,"rp":0.999},{"cens":0.5,"p0":0.5,"n":100,"width":0.96,"rp":0.982},{"cens":0.5,"p0":0.5,"n":100,"width":1.11,"rp":0.936},{"cens":0.5,"p0":0.5,"n":100,"width":0.52,"rp":0.946},
      {"cens":0.5,"p0":0.5,"n":100,"width":0.36,"rp":0.922},{"cens":0.5,"p0":0.5,"n":100,"width":0.77,"rp":0.922},{"cens":0.5,"p0":0.5,"n":100,"width":0.74,"rp":0.809},{"cens":0.5,"p0":0.5,"n":100,"width":0.83,"rp":0.818},{"cens":0.5,"p0":0.5,"n":100,"width":0.68,"rp":0.797},{"cens":0.5,"p0":0.5,"n":100,"width":0.90,"rp":0.783},{"cens":0.5,"p0":0.5,"n":100,"width":0.93,"rp":0.790},{"cens":0.5,"p0":0.5,"n":100,"width":0.46,"rp":0.733},{"cens":0.5,"p0":0.5,"n":100,"width":0.56,"rp":0.729},{"cens":0.5,"p0":0.5,"n":100,"width":0.71,"rp":0.726},
      {"cens":0.5,"p0":0.5,"n":100,"width":0.68,"rp":0.698},{"cens":0.5,"p0":0.5,"n":100,"width":0.90,"rp":0.709},{"cens":0.5,"p0":0.5,"n":100,"width":0.90,"rp":0.670},{"cens":0.5,"p0":0.5,"n":100,"width":0.41,"rp":0.499},{"cens":0.5,"p0":0.5,"n":100,"width":0.73,"rp":0.261},{"cens":0.5,"p0":0.5,"n":100,"width":0.26,"rp":0.248},{"cens":0.5,"p0":0.5,"n":100,"width":0.77,"rp":0.138},{"cens":0.5,"p0":0.5,"n":100,"width":0.69,"rp":0.0},

      {"cens":0.1,"p0":0.8,"n":100,"width":0.51,"rp":0.983},{"cens":0.1,"p0":0.8,"n":100,"width":0.70,"rp":0.997},{"cens":0.1,"p0":0.8,"n":100,"width":0.82,"rp":0.997},{"cens":0.1,"p0":0.8,"n":100,"width":0.94,"rp":0.976},{"cens":0.1,"p0":0.8,"n":100,"width":0.94,"rp":0.940},{"cens":0.1,"p0":0.8,"n":100,"width":1.07,"rp":0.940},{"cens":0.1,"p0":0.8,"n":100,"width":1.13,"rp":0.969},{"cens":0.1,"p0":0.8,"n":100,"width":0.64,"rp":0.955},{"cens":0.1,"p0":0.8,"n":100,"width":0.79,"rp":0.940},{"cens":0.1,"p0":0.8,"n":100,"width":1.01,"rp":0.912},
      {"cens":0.1,"p0":0.8,"n":100,"width":0.91,"rp":0.891},{"cens":0.1,"p0":0.8,"n":100,"width":0.73,"rp":0.876},{"cens":0.1,"p0":0.8,"n":100,"width":0.82,"rp":0.862},{"cens":0.1,"p0":0.8,"n":100,"width":0.94,"rp":0.855},{"cens":0.1,"p0":0.8,"n":100,"width":1.07,"rp":0.869},{"cens":0.1,"p0":0.8,"n":100,"width":0.73,"rp":0.841},{"cens":0.1,"p0":0.8,"n":100,"width":0.88,"rp":0.834},{"cens":0.1,"p0":0.8,"n":100,"width":0.98,"rp":0.848},{"cens":0.1,"p0":0.8,"n":100,"width":1.07,"rp":0.827},{"cens":0.1,"p0":0.8,"n":100,"width":1.10,"rp":0.805},
      {"cens":0.1,"p0":0.8,"n":100,"width":0.67,"rp":0.798},{"cens":0.1,"p0":0.8,"n":100,"width":0.88,"rp":0.805},{"cens":0.1,"p0":0.8,"n":100,"width":0.94,"rp":0.784},{"cens":0.1,"p0":0.8,"n":100,"width":1.01,"rp":0.798},{"cens":0.1,"p0":0.8,"n":100,"width":1.28,"rp":0.784},{"cens":0.1,"p0":0.8,"n":100,"width":0.82,"rp":0.749},{"cens":0.1,"p0":0.8,"n":100,"width":0.94,"rp":0.720},{"cens":0.1,"p0":0.8,"n":100,"width":0.91,"rp":0.710},{"cens":0.1,"p0":0.8,"n":100,"width":1.10,"rp":0.702},{"cens":0.1,"p0":0.8,"n":100,"width":1.07,"rp":0.699},
      {"cens":0.1,"p0":0.8,"n":100,"width":0.88,"rp":0.682},{"cens":0.1,"p0":0.8,"n":100,"width":1.02,"rp":0.645},{"cens":0.1,"p0":0.8,"n":100,"width":1.22,"rp":0.688},{"cens":0.1,"p0":0.8,"n":100,"width":1.55,"rp":0.659},{"cens":0.1,"p0":0.8,"n":100,"width":0.84,"rp":0.625},{"cens":0.1,"p0":0.8,"n":100,"width":0.94,"rp":0.592},{"cens":0.1,"p0":0.8,"n":100,"width":0.91,"rp":0.432},{"cens":0.1,"p0":0.8,"n":100,"width":1.06,"rp":0.425},{"cens":0.1,"p0":0.8,"n":100,"width":0.98,"rp":0.351},{"cens":0.1,"p0":0.8,"n":100,"width":0.51,"rp":0.955},
      {"cens":0.1,"p0":0.8,"n":100,"width":0.64,"rp":0.912},

      {"cens":0.3,"p0":0.8,"n":100,"width":0.81,"rp":0.997},{"cens":0.3,"p0":0.8,"n":100,"width":0.94,"rp":1.0},{"cens":0.3,"p0":0.8,"n":100,"width":1.00,"rp":0.983},{"cens":0.3,"p0":0.8,"n":100,"width":1.12,"rp":0.972},{"cens":0.3,"p0":0.8,"n":100,"width":1.25,"rp":0.952},{"cens":0.3,"p0":0.8,"n":100,"width":1.06,"rp":0.940},{"cens":0.3,"p0":0.8,"n":100,"width":0.91,"rp":0.923},{"cens":0.3,"p0":0.8,"n":100,"width":1.15,"rp":0.938},{"cens":0.3,"p0":0.8,"n":100,"width":1.28,"rp":0.957},{"cens":0.3,"p0":0.8,"n":100,"width":1.80,"rp":1.0},
      {"cens":0.3,"p0":0.8,"n":100,"width":1.93,"rp":0.983},{"cens":0.3,"p0":0.8,"n":100,"width":2.60,"rp":0.986},{"cens":0.3,"p0":0.8,"n":100,"width":0.88,"rp":0.891},{"cens":0.3,"p0":0.8,"n":100,"width":1.03,"rp":0.884},{"cens":0.3,"p0":0.8,"n":100,"width":1.12,"rp":0.869},{"cens":0.3,"p0":0.8,"n":100,"width":1.31,"rp":0.886},{"cens":0.3,"p0":0.8,"n":100,"width":1.25,"rp":0.855},{"cens":0.3,"p0":0.8,"n":100,"width":1.28,"rp":0.844},{"cens":0.3,"p0":0.8,"n":100,"width":1.63,"rp":0.838},{"cens":0.3,"p0":0.8,"n":100,"width":0.94,"rp":0.813},
      {"cens":0.3,"p0":0.8,"n":100,"width":1.03,"rp":0.784},{"cens":0.3,"p0":0.8,"n":100,"width":0.96,"rp":0.739},{"cens":0.3,"p0":0.8,"n":100,"width":0.75,"rp":0.692},{"cens":0.3,"p0":0.8,"n":100,"width":0.91,"rp":0.702},{"cens":0.3,"p0":0.8,"n":100,"width":1.25,"rp":0.696},{"cens":0.3,"p0":0.8,"n":100,"width":1.25,"rp":0.670},{"cens":0.3,"p0":0.8,"n":100,"width":0.93,"rp":0.659},{"cens":0.3,"p0":0.8,"n":100,"width":1.05,"rp":0.656},{"cens":0.3,"p0":0.8,"n":100,"width":1.03,"rp":0.628},{"cens":0.3,"p0":0.8,"n":100,"width":1.26,"rp":0.663},
      {"cens":0.3,"p0":0.8,"n":100,"width":2.02,"rp":0.716},{"cens":0.3,"p0":0.8,"n":100,"width":2.03,"rp":0.639},{"cens":0.3,"p0":0.8,"n":100,"width":1.28,"rp":0.594},{"cens":0.3,"p0":0.8,"n":100,"width":1.11,"rp":0.545},{"cens":0.3,"p0":0.8,"n":100,"width":0.86,"rp":0.514},{"cens":0.3,"p0":0.8,"n":100,"width":1.08,"rp":0.403},{"cens":0.3,"p0":0.8,"n":100,"width":1.22,"rp":0.386},

      {"cens":0.5,"p0":0.8,"n":100,"width":1.05,"rp":0.997},{"cens":0.5,"p0":0.8,"n":100,"width":1.23,"rp":0.994},{"cens":0.5,"p0":0.8,"n":100,"width":1.36,"rp":0.990},{"cens":0.5,"p0":0.8,"n":100,"width":1.51,"rp":0.997},{"cens":0.5,"p0":0.8,"n":100,"width":1.79,"rp":0.976},{"cens":0.5,"p0":0.8,"n":100,"width":1.94,"rp":0.980},{"cens":0.5,"p0":0.8,"n":100,"width":1.14,"rp":0.969},{"cens":0.5,"p0":0.8,"n":100,"width":1.30,"rp":0.957},{"cens":0.5,"p0":0.8,"n":100,"width":1.45,"rp":0.947},{"cens":0.5,"p0":0.8,"n":100,"width":1.60,"rp":0.957},
      {"cens":0.5,"p0":0.8,"n":100,"width":1.05,"rp":0.940},{"cens":0.5,"p0":0.8,"n":100,"width":1.23,"rp":0.926},{"cens":0.5,"p0":0.8,"n":100,"width":1.36,"rp":0.933},{"cens":0.5,"p0":0.8,"n":100,"width":1.51,"rp":0.919},{"cens":0.5,"p0":0.8,"n":100,"width":1.67,"rp":0.898},{"cens":0.5,"p0":0.8,"n":100,"width":1.02,"rp":0.905},{"cens":0.5,"p0":0.8,"n":100,"width":0.90,"rp":0.855},{"cens":0.5,"p0":0.8,"n":100,"width":1.14,"rp":0.855},{"cens":0.5,"p0":0.8,"n":100,"width":1.33,"rp":0.858},{"cens":0.5,"p0":0.8,"n":100,"width":1.42,"rp":0.869},
      {"cens":0.5,"p0":0.8,"n":100,"width":1.20,"rp":0.886},{"cens":0.5,"p0":0.8,"n":100,"width":1.64,"rp":0.895},{"cens":0.5,"p0":0.8,"n":100,"width":1.73,"rp":0.858},{"cens":0.5,"p0":0.8,"n":100,"width":1.88,"rp":0.869},{"cens":0.5,"p0":0.8,"n":100,"width":1.51,"rp":0.820},{"cens":0.5,"p0":0.8,"n":100,"width":1.57,"rp":0.824},{"cens":0.5,"p0":0.8,"n":100,"width":0.83,"rp":0.827},{"cens":0.5,"p0":0.8,"n":100,"width":0.80,"rp":0.813},{"cens":0.5,"p0":0.8,"n":100,"width":0.90,"rp":0.834},{"cens":0.5,"p0":0.8,"n":100,"width":0.99,"rp":0.767},
      {"cens":0.5,"p0":0.8,"n":100,"width":1.64,"rp":0.763},{"cens":0.5,"p0":0.8,"n":100,"width":1.70,"rp":0.741},{"cens":0.5,"p0":0.8,"n":100,"width":0.93,"rp":0.716},{"cens":0.5,"p0":0.8,"n":100,"width":1.27,"rp":0.723},{"cens":0.5,"p0":0.8,"n":100,"width":1.19,"rp":0.685},{"cens":0.5,"p0":0.8,"n":100,"width":1.60,"rp":0.592},{"cens":0.5,"p0":0.8,"n":100,"width":1.11,"rp":0.616},{"cens":0.5,"p0":0.8,"n":100,"width":0.77,"rp":0.609},{"cens":0.5,"p0":0.8,"n":100,"width":1.16,"rp":0.578},{"cens":0.5,"p0":0.8,"n":100,"width":1.47,"rp":0.536},
      {"cens":0.5,"p0":0.8,"n":100,"width":1.57,"rp":0.526},{"cens":0.5,"p0":0.8,"n":100,"width":0.80,"rp":0.460},{"cens":0.5,"p0":0.8,"n":100,"width":1.27,"rp":0.450},{"cens":0.5,"p0":0.8,"n":100,"width":1.36,"rp":0.386},{"cens":0.5,"p0":0.8,"n":100,"width":0.94,"rp":0.358},{"cens":0.5,"p0":0.8,"n":100,"width":1.67,"rp":0.277},{"cens":0.5,"p0":0.8,"n":100,"width":0.71,"rp":0.983},{"cens":0.5,"p0":0.8,"n":100,"width":0.86,"rp":0.940},

      {"cens":0.1,"p0":0.5,"n":200,"width":0.57,"rp":0.989},{"cens":0.1,"p0":0.5,"n":200,"width":0.67,"rp":0.993},{"cens":0.1,"p0":0.5,"n":200,"width":0.76,"rp":0.996},{"cens":0.1,"p0":0.5,"n":200,"width":0.85,"rp":0.993},{"cens":0.1,"p0":0.5,"n":200,"width":0.94,"rp":0.996},{"cens":0.1,"p0":0.5,"n":200,"width":1.04,"rp":0.993},{"cens":0.1,"p0":0.5,"n":200,"width":1.13,"rp":0.989},{"cens":0.1,"p0":0.5,"n":200,"width":1.22,"rp":0.993},{"cens":0.1,"p0":0.5,"n":200,"width":1.31,"rp":0.996},{"cens":0.1,"p0":0.5,"n":200,"width":1.78,"rp":0.984},
      {"cens":0.1,"p0":0.5,"n":200,"width":0.70,"rp":0.960},{"cens":0.1,"p0":0.5,"n":200,"width":0.88,"rp":0.960},{"cens":0.1,"p0":0.5,"n":200,"width":1.01,"rp":0.967},{"cens":0.1,"p0":0.5,"n":200,"width":1.10,"rp":0.953},{"cens":0.1,"p0":0.5,"n":200,"width":0.82,"rp":0.932},{"cens":0.1,"p0":0.5,"n":200,"width":0.94,"rp":0.925},{"cens":0.1,"p0":0.5,"n":200,"width":1.07,"rp":0.932},{"cens":0.1,"p0":0.5,"n":200,"width":1.19,"rp":0.939},{"cens":0.1,"p0":0.5,"n":200,"width":0.67,"rp":0.904},{"cens":0.1,"p0":0.5,"n":200,"width":0.94,"rp":0.896},
      {"cens":0.1,"p0":0.5,"n":200,"width":1.04,"rp":0.889},{"cens":0.1,"p0":0.5,"n":200,"width":1.16,"rp":0.904},{"cens":0.1,"p0":0.5,"n":200,"width":1.25,"rp":0.882},{"cens":0.1,"p0":0.5,"n":200,"width":0.88,"rp":0.868},{"cens":0.1,"p0":0.5,"n":200,"width":1.01,"rp":0.854},{"cens":0.1,"p0":0.5,"n":200,"width":0.85,"rp":0.847},{"cens":0.1,"p0":0.5,"n":200,"width":1.13,"rp":0.840},{"cens":0.1,"p0":0.5,"n":200,"width":0.94,"rp":0.826},{"cens":0.1,"p0":0.5,"n":200,"width":0.82,"rp":0.818},{"cens":0.1,"p0":0.5,"n":200,"width":0.91,"rp":0.811},
      {"cens":0.1,"p0":0.5,"n":200,"width":1.07,"rp":0.833},{"cens":0.1,"p0":0.5,"n":200,"width":1.22,"rp":0.868},{"cens":0.1,"p0":0.5,"n":200,"width":0.82,"rp":0.755},{"cens":0.1,"p0":0.5,"n":200,"width":0.94,"rp":0.769},{"cens":0.1,"p0":0.5,"n":200,"width":1.01,"rp":0.740},{"cens":0.1,"p0":0.5,"n":200,"width":1.10,"rp":0.755},{"cens":0.1,"p0":0.5,"n":200,"width":1.22,"rp":0.733},{"cens":0.1,"p0":0.5,"n":200,"width":0.88,"rp":0.691},{"cens":0.1,"p0":0.5,"n":200,"width":0.94,"rp":0.705},{"cens":0.1,"p0":0.5,"n":200,"width":0.98,"rp":0.712},
      {"cens":0.1,"p0":0.5,"n":200,"width":1.28,"rp":0.670},{"cens":0.1,"p0":0.5,"n":200,"width":1.31,"rp":0.670},{"cens":0.1,"p0":0.5,"n":200,"width":1.01,"rp":0.648},{"cens":0.1,"p0":0.5,"n":200,"width":1.07,"rp":0.627},{"cens":0.1,"p0":0.5,"n":200,"width":0.76,"rp":0.606},{"cens":0.1,"p0":0.5,"n":200,"width":0.88,"rp":0.601},{"cens":0.1,"p0":0.5,"n":200,"width":1.19,"rp":0.591},{"cens":0.1,"p0":0.5,"n":200,"width":0.85,"rp":0.549},{"cens":0.1,"p0":0.5,"n":200,"width":1.13,"rp":0.549},{"cens":0.1,"p0":0.5,"n":200,"width":1.28,"rp":0.535},
      {"cens":0.1,"p0":0.5,"n":200,"width":1.01,"rp":0.343},{"cens":0.1,"p0":0.5,"n":200,"width":0.88,"rp":0.265},{"cens":0.1,"p0":0.5,"n":200,"width":1.04,"rp":0.270},

      {"cens":0.3,"p0":0.5,"n":200,"width":0.75,"rp":0.993},{"cens":0.3,"p0":0.5,"n":200,"width":0.85,"rp":0.984},{"cens":0.3,"p0":0.5,"n":200,"width":1.03,"rp":0.996},{"cens":0.3,"p0":0.5,"n":200,"width":1.12,"rp":0.993},{"cens":0.3,"p0":0.5,"n":200,"width":1.22,"rp":0.999},{"cens":0.3,"p0":0.5,"n":200,"width":1.31,"rp":0.993},{"cens":0.3,"p0":0.5,"n":200,"width":1.40,"rp":0.989},{"cens":0.3,"p0":0.5,"n":200,"width":1.49,"rp":0.996},{"cens":0.3,"p0":0.5,"n":200,"width":1.06,"rp":0.967},{"cens":0.3,"p0":0.5,"n":200,"width":1.19,"rp":0.960},
      {"cens":0.3,"p0":0.5,"n":200,"width":1.31,"rp":0.970},{"cens":0.3,"p0":0.5,"n":200,"width":1.46,"rp":0.965},{"cens":0.3,"p0":0.5,"n":200,"width":0.97,"rp":0.950},{"cens":0.3,"p0":0.5,"n":200,"width":1.62,"rp":0.953},{"cens":0.3,"p0":0.5,"n":200,"width":1.86,"rp":0.974},{"cens":0.3,"p0":0.5,"n":200,"width":1.15,"rp":0.932},{"cens":0.3,"p0":0.5,"n":200,"width":1.31,"rp":0.939},{"cens":0.3,"p0":0.5,"n":200,"width":1.40,"rp":0.925},{"cens":0.3,"p0":0.5,"n":200,"width":1.68,"rp":0.904},{"cens":0.3,"p0":0.5,"n":200,"width":0.94,"rp":0.904},
      {"cens":0.3,"p0":0.5,"n":200,"width":1.06,"rp":0.882},{"cens":0.3,"p0":0.5,"n":200,"width":1.19,"rp":0.861},{"cens":0.3,"p0":0.5,"n":200,"width":1.31,"rp":0.871},{"cens":0.3,"p0":0.5,"n":200,"width":1.43,"rp":0.911},{"cens":0.3,"p0":0.5,"n":200,"width":1.62,"rp":0.875},{"cens":0.3,"p0":0.5,"n":200,"width":1.71,"rp":0.882},{"cens":0.3,"p0":0.5,"n":200,"width":1.86,"rp":0.861},{"cens":0.3,"p0":0.5,"n":200,"width":0.93,"rp":0.816},{"cens":0.3,"p0":0.5,"n":200,"width":1.25,"rp":0.800},{"cens":0.3,"p0":0.5,"n":200,"width":1.37,"rp":0.772},
      {"cens":0.3,"p0":0.5,"n":200,"width":1.56,"rp":0.783},{"cens":0.3,"p0":0.5,"n":200,"width":1.49,"rp":0.826},{"cens":0.3,"p0":0.5,"n":200,"width":1.65,"rp":0.833},{"cens":0.3,"p0":0.5,"n":200,"width":1.80,"rp":0.818},{"cens":0.3,"p0":0.5,"n":200,"width":1.68,"rp":0.740},{"cens":0.3,"p0":0.5,"n":200,"width":1.46,"rp":0.709},{"cens":0.3,"p0":0.5,"n":200,"width":1.56,"rp":0.701},{"cens":0.3,"p0":0.5,"n":200,"width":1.68,"rp":0.677},{"cens":0.3,"p0":0.5,"n":200,"width":1.49,"rp":0.662},{"cens":0.3,"p0":0.5,"n":200,"width":1.65,"rp":0.658},
      {"cens":0.3,"p0":0.5,"n":200,"width":1.77,"rp":0.648},{"cens":0.3,"p0":0.5,"n":200,"width":1.17,"rp":0.698},{"cens":0.3,"p0":0.5,"n":200,"width":1.25,"rp":0.630},{"cens":0.3,"p0":0.5,"n":200,"width":1.37,"rp":0.634},{"cens":0.3,"p0":0.5,"n":200,"width":1.71,"rp":0.599},{"cens":0.3,"p0":0.5,"n":200,"width":1.32,"rp":0.523},{"cens":0.3,"p0":0.5,"n":200,"width":1.48,"rp":0.539},{"cens":0.3,"p0":0.5,"n":200,"width":1.05,"rp":0.488},{"cens":0.3,"p0":0.5,"n":200,"width":1.15,"rp":0.464},{"cens":0.3,"p0":0.5,"n":200,"width":1.40,"rp":0.457},
      {"cens":0.3,"p0":0.5,"n":200,"width":1.48,"rp":0.485},{"cens":0.3,"p0":0.5,"n":200,"width":1.37,"rp":0.431},{"cens":0.3,"p0":0.5,"n":200,"width":1.85,"rp":0.482},{"cens":0.3,"p0":0.5,"n":200,"width":1.40,"rp":0.396},{"cens":0.3,"p0":0.5,"n":200,"width":1.75,"rp":0.379},{"cens":0.3,"p0":0.5,"n":200,"width":1.28,"rp":0.209},{"cens":0.3,"p0":0.5,"n":200,"width":1.05,"rp":0.136},

      {"cens":0.5,"p0":0.5,"n":200,"width":0.28,"rp":0.999},{"cens":0.5,"p0":0.5,"n":200,"width":0.40,"rp":0.996},{"cens":0.5,"p0":0.5,"n":200,"width":0.49,"rp":0.999},{"cens":0.5,"p0":0.5,"n":200,"width":0.59,"rp":0.993},{"cens":0.5,"p0":0.5,"n":200,"width":0.68,"rp":0.999},{"cens":0.5,"p0":0.5,"n":200,"width":0.77,"rp":0.996},{"cens":0.5,"p0":0.5,"n":200,"width":0.86,"rp":0.993},{"cens":0.5,"p0":0.5,"n":200,"width":0.37,"rp":0.974},{"cens":0.5,"p0":0.5,"n":200,"width":0.56,"rp":0.982},{"cens":0.5,"p0":0.5,"n":200,"width":0.71,"rp":0.974},
      {"cens":0.5,"p0":0.5,"n":200,"width":0.43,"rp":0.956},{"cens":0.5,"p0":0.5,"n":200,"width":0.65,"rp":0.946},{"cens":0.5,"p0":0.5,"n":200,"width":0.74,"rp":0.939},{"cens":0.5,"p0":0.5,"n":200,"width":0.68,"rp":0.918},{"cens":0.5,"p0":0.5,"n":200,"width":0.77,"rp":0.911},{"cens":0.5,"p0":0.5,"n":200,"width":0.56,"rp":0.896},{"cens":0.5,"p0":0.5,"n":200,"width":0.80,"rp":0.896},{"cens":0.5,"p0":0.5,"n":200,"width":0.68,"rp":0.861},{"cens":0.5,"p0":0.5,"n":200,"width":0.74,"rp":0.857},{"cens":0.5,"p0":0.5,"n":200,"width":0.36,"rp":0.800},
      {"cens":0.5,"p0":0.5,"n":200,"width":0.60,"rp":0.800},{"cens":0.5,"p0":0.5,"n":200,"width":0.59,"rp":0.743},{"cens":0.5,"p0":0.5,"n":200,"width":0.62,"rp":0.733},{"cens":0.5,"p0":0.5,"n":200,"width":0.45,"rp":0.715},{"cens":0.5,"p0":0.5,"n":200,"width":0.75,"rp":0.712},{"cens":0.5,"p0":0.5,"n":200,"width":0.62,"rp":0.665},{"cens":0.5,"p0":0.5,"n":200,"width":0.62,"rp":0.447},{"cens":0.5,"p0":0.5,"n":200,"width":0.77,"rp":0.400},{"cens":0.5,"p0":0.5,"n":200,"width":0.54,"rp":0.112},{"cens":0.5,"p0":0.5,"n":200,"width":0.57,"rp":0.095},
      {"cens":0.5,"p0":0.5,"n":200,"width":0.71,"rp":0.067},{"cens":0.5,"p0":0.5,"n":200,"width":0.62,"rp":0.0},{"cens":0.5,"p0":0.5,"n":200,"width":0.67,"rp":0.0},

      {"cens":0.1,"p0":0.8,"n":200,"width":0.42,"rp":0.994},{"cens":0.1,"p0":0.8,"n":200,"width":0.51,"rp":0.997},{"cens":0.1,"p0":0.8,"n":200,"width":0.60,"rp":0.994},{"cens":0.1,"p0":0.8,"n":200,"width":0.70,"rp":0.997},{"cens":0.1,"p0":0.8,"n":200,"width":0.79,"rp":0.990},{"cens":0.1,"p0":0.8,"n":200,"width":0.88,"rp":0.994},{"cens":0.1,"p0":0.8,"n":200,"width":0.48,"rp":0.980},{"cens":0.1,"p0":0.8,"n":200,"width":0.57,"rp":0.976},{"cens":0.1,"p0":0.8,"n":200,"width":0.67,"rp":0.972},{"cens":0.1,"p0":0.8,"n":200,"width":0.76,"rp":0.969},
      {"cens":0.1,"p0":0.8,"n":200,"width":0.85,"rp":0.976},{"cens":0.1,"p0":0.8,"n":200,"width":0.57,"rp":0.955},{"cens":0.1,"p0":0.8,"n":200,"width":0.67,"rp":0.947},{"cens":0.1,"p0":0.8,"n":200,"width":0.76,"rp":0.940},{"cens":0.1,"p0":0.8,"n":200,"width":0.85,"rp":0.947},{"cens":0.1,"p0":0.8,"n":200,"width":0.70,"rp":0.926},{"cens":0.1,"p0":0.8,"n":200,"width":0.79,"rp":0.919},{"cens":0.1,"p0":0.8,"n":200,"width":0.88,"rp":0.912},{"cens":0.1,"p0":0.8,"n":200,"width":0.82,"rp":0.898},{"cens":0.1,"p0":0.8,"n":200,"width":0.85,"rp":0.891},
      {"cens":0.1,"p0":0.8,"n":200,"width":0.59,"rp":0.915},{"cens":0.1,"p0":0.8,"n":200,"width":0.75,"rp":0.838},{"cens":0.1,"p0":0.8,"n":200,"width":0.57,"rp":0.815},{"cens":0.1,"p0":0.8,"n":200,"width":0.65,"rp":0.652},{"cens":0.1,"p0":0.8,"n":200,"width":0.57,"rp":0.503},{"cens":0.1,"p0":0.8,"n":200,"width":0.56,"rp":0.500},{"cens":0.1,"p0":0.8,"n":200,"width":0.71,"rp":0.496},{"cens":0.1,"p0":0.8,"n":200,"width":0.73,"rp":0.408},{"cens":0.1,"p0":0.8,"n":200,"width":0.55,"rp":0.091},

      {"cens":0.3,"p0":0.8,"n":200,"width":0.44,"rp":0.997},{"cens":0.3,"p0":0.8,"n":200,"width":0.54,"rp":1.0},{"cens":0.3,"p0":0.8,"n":200,"width":0.63,"rp":0.994},{"cens":0.3,"p0":0.8,"n":200,"width":0.72,"rp":0.997},{"cens":0.3,"p0":0.8,"n":200,"width":0.81,"rp":0.990},{"cens":0.3,"p0":0.8,"n":200,"width":0.91,"rp":0.997},{"cens":0.3,"p0":0.8,"n":200,"width":0.51,"rp":0.976},{"cens":0.3,"p0":0.8,"n":200,"width":0.63,"rp":0.969},{"cens":0.3,"p0":0.8,"n":200,"width":0.75,"rp":0.962},{"cens":0.3,"p0":0.8,"n":200,"width":0.88,"rp":0.972},
      {"cens":0.3,"p0":0.8,"n":200,"width":1.00,"rp":0.980},{"cens":0.3,"p0":0.8,"n":200,"width":1.09,"rp":0.957},{"cens":0.3,"p0":0.8,"n":200,"width":0.54,"rp":0.952},{"cens":0.3,"p0":0.8,"n":200,"width":0.69,"rp":0.940},{"cens":0.3,"p0":0.8,"n":200,"width":0.78,"rp":0.947},{"cens":0.3,"p0":0.8,"n":200,"width":0.91,"rp":0.933},{"cens":0.3,"p0":0.8,"n":200,"width":0.57,"rp":0.919},{"cens":0.3,"p0":0.8,"n":200,"width":0.72,"rp":0.915},{"cens":0.3,"p0":0.8,"n":200,"width":0.94,"rp":0.909},{"cens":0.3,"p0":0.8,"n":200,"width":0.63,"rp":0.866},
      {"cens":0.3,"p0":0.8,"n":200,"width":0.75,"rp":0.869},{"cens":0.3,"p0":0.8,"n":200,"width":0.60,"rp":0.841},{"cens":0.3,"p0":0.8,"n":200,"width":0.72,"rp":0.834},{"cens":0.3,"p0":0.8,"n":200,"width":0.78,"rp":0.820},{"cens":0.3,"p0":0.8,"n":200,"width":0.63,"rp":0.815},{"cens":0.3,"p0":0.8,"n":200,"width":0.69,"rp":0.787},{"cens":0.3,"p0":0.8,"n":200,"width":0.66,"rp":0.777},{"cens":0.3,"p0":0.8,"n":200,"width":0.72,"rp":0.773},{"cens":0.3,"p0":0.8,"n":200,"width":0.60,"rp":0.746},{"cens":0.3,"p0":0.8,"n":200,"width":0.78,"rp":0.744},
      {"cens":0.3,"p0":0.8,"n":200,"width":0.61,"rp":0.663},{"cens":0.3,"p0":0.8,"n":200,"width":1.69,"rp":0.986},{"cens":0.3,"p0":0.8,"n":200,"width":2.14,"rp":0.936},{"cens":0.3,"p0":0.8,"n":200,"width":0.89,"rp":0.545},{"cens":0.3,"p0":0.8,"n":200,"width":0.72,"rp":0.500},{"cens":0.3,"p0":0.8,"n":200,"width":0.71,"rp":0.396},{"cens":0.3,"p0":0.8,"n":200,"width":0.35,"rp":0.994},

      {"cens":0.5,"p0":0.8,"n":200,"width":0.46,"rp":0.994},{"cens":0.5,"p0":0.8,"n":200,"width":0.56,"rp":0.997},{"cens":0.5,"p0":0.8,"n":200,"width":0.65,"rp":0.994},{"cens":0.5,"p0":0.8,"n":200,"width":0.74,"rp":1.0},{"cens":0.5,"p0":0.8,"n":200,"width":0.83,"rp":0.994},{"cens":0.5,"p0":0.8,"n":200,"width":0.93,"rp":0.994},{"cens":0.5,"p0":0.8,"n":200,"width":0.52,"rp":0.976},{"cens":0.5,"p0":0.8,"n":200,"width":0.62,"rp":0.969},{"cens":0.5,"p0":0.8,"n":200,"width":0.74,"rp":0.972},{"cens":0.5,"p0":0.8,"n":200,"width":0.86,"rp":0.976},
      {"cens":0.5,"p0":0.8,"n":200,"width":0.99,"rp":0.983},{"cens":0.5,"p0":0.8,"n":200,"width":1.14,"rp":0.990},{"cens":0.5,"p0":0.8,"n":200,"width":1.23,"rp":0.994},{"cens":0.5,"p0":0.8,"n":200,"width":1.70,"rp":1.0},{"cens":0.5,"p0":0.8,"n":200,"width":0.59,"rp":0.955},{"cens":0.5,"p0":0.8,"n":200,"width":0.71,"rp":0.947},{"cens":0.5,"p0":0.8,"n":200,"width":0.80,"rp":0.957},{"cens":0.5,"p0":0.8,"n":200,"width":0.96,"rp":0.940},{"cens":0.5,"p0":0.8,"n":200,"width":0.49,"rp":0.919},{"cens":0.5,"p0":0.8,"n":200,"width":0.68,"rp":0.929},
      {"cens":0.5,"p0":0.8,"n":200,"width":0.80,"rp":0.919},{"cens":0.5,"p0":0.8,"n":200,"width":0.93,"rp":0.923},{"cens":0.5,"p0":0.8,"n":200,"width":1.05,"rp":0.933},{"cens":0.5,"p0":0.8,"n":200,"width":1.45,"rp":0.966},{"cens":0.5,"p0":0.8,"n":200,"width":1.25,"rp":0.926},{"cens":0.5,"p0":0.8,"n":200,"width":0.59,"rp":0.891},{"cens":0.5,"p0":0.8,"n":200,"width":0.62,"rp":0.869},{"cens":0.5,"p0":0.8,"n":200,"width":0.90,"rp":0.898},{"cens":0.5,"p0":0.8,"n":200,"width":1.02,"rp":0.862},{"cens":0.5,"p0":0.8,"n":200,"width":0.57,"rp":0.855},
      {"cens":0.5,"p0":0.8,"n":200,"width":0.83,"rp":0.824},{"cens":0.5,"p0":0.8,"n":200,"width":0.90,"rp":0.820},{"cens":0.5,"p0":0.8,"n":200,"width":0.57,"rp":0.810},{"cens":0.5,"p0":0.8,"n":200,"width":0.74,"rp":0.784},{"cens":0.5,"p0":0.8,"n":200,"width":1.11,"rp":0.787},{"cens":0.5,"p0":0.8,"n":200,"width":1.17,"rp":0.905},{"cens":0.5,"p0":0.8,"n":200,"width":0.71,"rp":0.673},{"cens":0.5,"p0":0.8,"n":200,"width":0.88,"rp":0.668},{"cens":0.5,"p0":0.8,"n":200,"width":0.83,"rp":0.639},{"cens":0.5,"p0":0.8,"n":200,"width":0.94,"rp":0.582},
      {"cens":0.5,"p0":0.8,"n":200,"width":1.13,"rp":0.447},{"cens":0.5,"p0":0.8,"n":200,"width":0.37,"rp":0.983}
    ]
  },
  "facet": {
    "row": {
      "field": "p0",
      "type": "ordinal",
      "header": {
        "title": "Decision reproducibility RP(D)",
        "titleOrient": "left",
        "titleAngle": -90,
        "titleFont": "Liberation Sans",
        "titleFontSize": 23.5,
        "titleFontWeight": "normal",
        "titleColor": "#000000",
        "titlePadding": -19,
        "labelOrient": "right",
        "labelAngle": 90,
        "labelExpr": "'ρ₀ = ' + datum.value",
        "labelFont": "Liberation Sans",
        "labelFontSize": 16.5,
        "labelColor": "#1a1a1a",
        "labelPadding": 8
      }
    },
    "column": {
      "field": "cens",
      "type": "ordinal",
      "header": {
        "title": "Greenwood CI width (A) + Greenwood CI width (B)",
        "titleOrient": "bottom",
        "titleFont": "Liberation Sans",
        "titleFontSize": 23.5,
        "titleFontWeight": "normal",
        "titleColor": "#000000",
        "titlePadding": -2,
        "labelOrient": "top",
        "labelExpr": "'Censoring = ' + datum.value",
        "labelFont": "Liberation Sans",
        "labelFontSize": 16.5,
        "labelColor": "#1a1a1a",
        "labelPadding": 13
      }
    }
  },
  "spacing": {"row": 21, "column": 17},
  "spec": {
    "width": 267,
    "height": 256,
    "mark": {"type": "circle", "size": 62, "opacity": 0.85},
    "encoding": {
      "x": {
        "field": "width",
        "type": "quantitative",
        "title": null,
        "scale": {"domain": [-0.02, 4.9], "nice": false, "zero": false},
        "axis": {"values": [0, 1, 2, 3, 4], "format": "d"}
      },
      "y": {
        "field": "rp",
        "type": "quantitative",
        "title": null,
        "scale": {"domain": [-0.045, 1.047], "nice": false, "zero": false},
        "axis": {"values": [0, 0.25, 0.5, 0.75, 1], "format": ".2f"}
      },
      "color": {
        "field": "n",
        "type": "nominal",
        "scale": {"domain": [50, 100, 200], "range": ["#1f77b4", "#d62728", "#2ca02c"]},
        "legend": {
          "title": "Sample size (n)",
          "orient": "none",
          "legendX": 217,
          "legendY": 631,
          "direction": "horizontal",
          "titleOrient": "left",
          "symbolType": "circle",
          "symbolSize": 40,
          "symbolOpacity": 0.85,
          "labelOffset": 18,
          "columnPadding": 19,
          "titlePadding": 18
        }
      }
    }
  },
  "config": {
    "font": "Liberation Sans",
    "view": {"stroke": "#555555", "strokeWidth": 1, "strokeDash": [4, 4]},
    "axis": {
      "grid": false,
      "domainColor": "#000000",
      "domainWidth": 1.3,
      "tickColor": "#000000",
      "tickWidth": 1.1,
      "tickSize": 4,
      "labelFont": "Liberation Sans",
      "labelFontSize": 16.5,
      "labelColor": "#4d4d4d",
      "labelPadding": 3
    },
    "legend": {
      "titleFont": "Liberation Sans",
      "titleFontSize": 23.5,
      "titleFontWeight": "normal",
      "titleColor": "#000000",
      "labelFont": "Liberation Sans",
      "labelFontSize": 16.5,
      "labelColor": "#000000"
    }
  }
}
